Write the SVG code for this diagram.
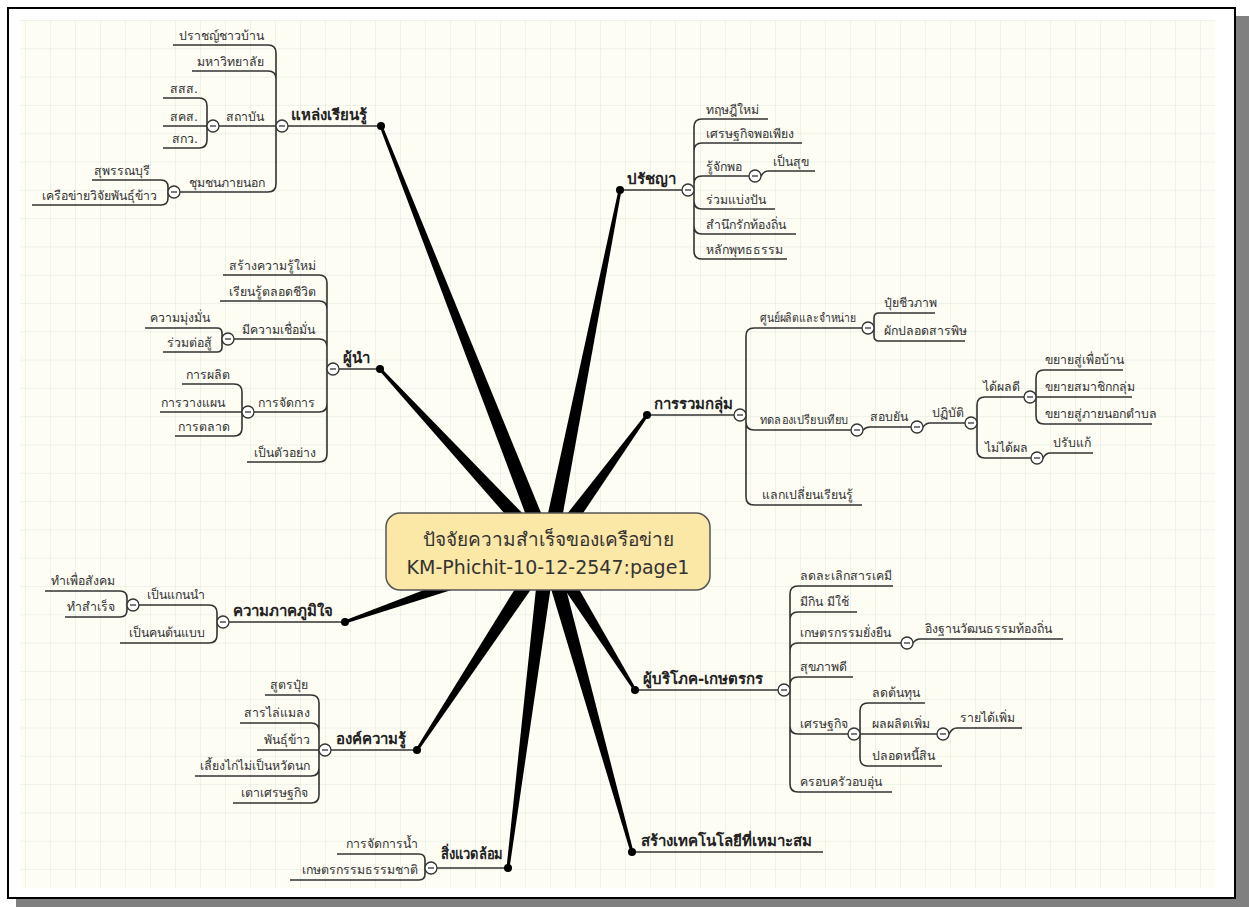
<svg xmlns="http://www.w3.org/2000/svg" xmlns:xlink="http://www.w3.org/1999/xlink" width="1249" height="907" viewBox="0 0 1249 907">
<defs>
<pattern id="grid" x="0" y="20" width="25" height="28.3" patternUnits="userSpaceOnUse">
<rect width="25" height="28.3" fill="#fdfdf4"/>
<path d="M0,0H25M0,0V28.3" fill="none" stroke="#dfe8dc" stroke-width="1"/>
</pattern>
<g id="tog"><circle r="6" fill="#fff" stroke="#333" stroke-width="1.3"/><path d="M-3,0H3" stroke="#333" stroke-width="1.3"/></g>
<style>
.t{font-family:"Tahoma","DejaVu Sans","Noto Sans",sans-serif;font-size:12.3px;fill:#333}
.e{text-anchor:end}
.h{font-family:"Tahoma","DejaVu Sans","Noto Sans",sans-serif;font-size:15px;font-weight:bold;fill:#222}
.c{font-family:"DejaVu Sans","Noto Sans",sans-serif;font-size:19px;fill:#333;text-anchor:middle}
.ln{fill:none;stroke:#333;stroke-width:1.6}
.sp{fill:#000}
</style>
</defs>
<rect x="16" y="16" width="1233" height="891" fill="#808080"/>
<rect x="8" y="8" width="1227" height="890" fill="#fff" stroke="#000" stroke-width="2"/>
<rect x="20" y="20" width="1195" height="868" fill="url(#grid)"/>

<g id="spokes">
<polygon class="sp" points="0,-8 456.6,-1.5 456.6,1.5 0,8" transform="translate(548 551) rotate(-111.45)"/>
<polygon class="sp" points="0,-8 368.1,-1.5 368.1,1.5 0,8" transform="translate(548 551) rotate(-78.72)"/>
<polygon class="sp" points="0,-8 247.7,-1.5 247.7,1.5 0,8" transform="translate(548 551) rotate(-132.71)"/>
<polygon class="sp" points="0,-8 168.2,-1.5 168.2,1.5 0,8" transform="translate(548 551) rotate(-53.94)"/>
<polygon class="sp" points="0,-8 215.1,-1.5 215.1,1.5 0,8" transform="translate(548 551) rotate(160.72)"/>
<polygon class="sp" points="0,-8 238.2,-1.5 238.2,1.5 0,8" transform="translate(548 551) rotate(123.36)"/>
<polygon class="sp" points="0,-8 319.5,-1.5 319.5,1.5 0,8" transform="translate(548 551) rotate(97.19)"/>
<polygon class="sp" points="0,-8 312.5,-1.5 312.5,1.5 0,8" transform="translate(548 551) rotate(74.41)"/>
<polygon class="sp" points="0,-8 164,-1.5 164,1.5 0,8" transform="translate(548 551) rotate(57.96)"/>
</g>

<g id="connectors" class="ln">
<path d="M282,126H381M688,190H620M333,369H380M740,415H647M223,622H345M325,750H417M431,868H508M632,852H823M784,690H635"/>
<path d="M173,45H268Q276,45 276,53V126M192,71H268Q276,71 276,79V126M213,126H282M174,192H268Q276,192 276,184V126"/>
<path d="M163,98H199Q207,98 207,106V126M163,126H213M163,148H199Q207,148 207,140V126"/>
<path d="M92,180H161Q168,180 168,187V192M32,205H161Q168,205 168,198V192"/>
<path d="M768,119H702Q694,119 694,127V190M802,143H702Q694,143 694,151V190M755,176H702Q694,176 694,184V190M775,209H702Q694,209 694,201V190M796,234H702Q694,234 694,226V190M787,259H702Q694,259 694,251V190"/>
<path d="M755,176H761Q764,171 768,171H815"/>
<path d="M223,275H319Q327,275 327,283V369M220,301H319Q327,301 327,309V369M228,339H319Q327,339 327,347V369M248,412H319Q327,412 327,404V369M247,462H319Q327,462 327,454V369"/>
<path d="M145,328H217Q222,328 222,333V339M163,352H217Q222,352 222,347V339"/>
<path d="M182,384H234Q242,384 242,392V412M160,412H248M175,436H234Q242,436 242,428V412"/>
<path d="M868,328H754Q746,328 746,336V415M857,430H754Q746,430 746,422V415M862,505H754Q746,505 746,497V415"/>
<path d="M935,313H879Q874,313 874,318V328M965,341H879Q874,341 874,336V328"/>
<path d="M857,430H863Q866,427 870,427H917M917,427H923Q926,423 930,423H971"/>
<path d="M1030,397H985Q977,397 977,405V423M1037,458H985Q977,458 977,450V423"/>
<path d="M1123,370H1044Q1036,370 1036,378V397M1132,397H1030M1152,424H1044Q1036,424 1036,416V397"/>
<path d="M1037,458H1043Q1046,453 1050,453H1093"/>
<path d="M133,605H209Q217,605 217,613V622M120,643H209Q217,643 217,635V622"/>
<path d="M45,591H120Q127,591 127,598V605M65,617H120Q127,617 127,610V605"/>
<path d="M265,695H311Q319,695 319,703V750M240,723H311Q319,723 319,731V750M257,750H325M195,776H311Q319,776 319,768V750M233,803H311Q319,803 319,795V750"/>
<path d="M337,854H419Q425,854 425,860V868M290,880H419Q425,880 425,874V868"/>
<path d="M893,586H798Q790,586 790,594V690M857,612H798Q790,612 790,620V690M907,643H798Q790,643 790,651V690M853,677H798Q790,677 790,685V690M854,734H798Q790,734 790,726V690M892,792H798Q790,792 790,784V690"/>
<path d="M907,643H913Q916,639 920,639H1063"/>
<path d="M925,703H868Q860,703 860,711V734M943,734H854M942,766H868Q860,766 860,758V734"/>
<path d="M943,734H949Q952,728 957,728H1022"/>
</g>

<g id="toggles">
<use xlink:href="#tog" x="282" y="126"/><use xlink:href="#tog" x="213" y="126"/><use xlink:href="#tog" x="174" y="192"/>
<use xlink:href="#tog" x="688" y="190"/><use xlink:href="#tog" x="755" y="176"/>
<use xlink:href="#tog" x="333" y="369"/><use xlink:href="#tog" x="228" y="339"/><use xlink:href="#tog" x="248" y="412"/>
<use xlink:href="#tog" x="740" y="415"/><use xlink:href="#tog" x="868" y="328"/><use xlink:href="#tog" x="857" y="430"/><use xlink:href="#tog" x="917" y="427"/><use xlink:href="#tog" x="971" y="423"/><use xlink:href="#tog" x="1030" y="397"/><use xlink:href="#tog" x="1037" y="458"/>
<use xlink:href="#tog" x="223" y="622"/><use xlink:href="#tog" x="133" y="605"/>
<use xlink:href="#tog" x="325" y="750"/><use xlink:href="#tog" x="431" y="868"/>
<use xlink:href="#tog" x="784" y="690"/><use xlink:href="#tog" x="907" y="643"/><use xlink:href="#tog" x="854" y="734"/><use xlink:href="#tog" x="943" y="734"/>
</g>

<g id="dots" fill="#000">
<circle cx="381" cy="126" r="4"/><circle cx="620" cy="190" r="4"/><circle cx="380" cy="369" r="4"/><circle cx="647" cy="415" r="4"/><circle cx="345" cy="622" r="4"/><circle cx="417" cy="750" r="4"/><circle cx="508" cy="868" r="4"/><circle cx="632" cy="852" r="4"/><circle cx="635" cy="690" r="4"/>
</g>

<g id="center">
<rect x="386" y="513" width="324" height="77" rx="14" fill="#fbe7a6" stroke="#555" stroke-width="1.5"/>
<text class="c" x="548" y="546">ปัจจัยความสำเร็จของเครือข่าย</text>
<text class="c" x="548" y="574">KM-Phichit-10-12-2547:page1</text>
</g>

<g id="n-source">
<text class="h" x="291" y="120">แหล่งเรียนรู้</text>
<text class="t e" x="264" y="40">ปราชญ์ชาวบ้าน</text>
<text class="t e" x="264" y="66">มหาวิทยาลัย</text>
<text class="t e" x="264" y="121">สถาบัน</text>
<text class="t e" x="198" y="93">สสส.</text>
<text class="t e" x="198" y="121">สคส.</text>
<text class="t e" x="198" y="143">สกว.</text>
<text class="t e" x="265" y="187">ชุมชนภายนอก</text>
<text class="t e" x="150" y="175">สุพรรณบุรี</text>
<text class="t e" x="157" y="200">เครือข่ายวิจัยพันธุ์ข้าว</text>
</g>

<g id="n-philosophy">
<text class="h" x="627" y="184">ปรัชญา</text>
<text class="t" x="706" y="114">ทฤษฎีใหม่</text>
<text class="t" x="706" y="138">เศรษฐกิจพอเพียง</text>
<text class="t" x="706" y="171">รู้จักพอ</text>
<text class="t" x="773" y="166">เป็นสุข</text>
<text class="t" x="706" y="204">ร่วมแบ่งปัน</text>
<text class="t" x="706" y="229">สำนึกรักท้องถิ่น</text>
<text class="t" x="706" y="254">หลักพุทธธรรม</text>
</g>

<g id="n-leader">
<text class="h" x="343" y="363">ผู้นำ</text>
<text class="t e" x="316" y="270">สร้างความรู้ใหม่</text>
<text class="t e" x="316" y="296">เรียนรู้ตลอดชีวิต</text>
<text class="t e" x="315" y="334">มีความเชื่อมั่น</text>
<text class="t e" x="210" y="322">ความมุ่งมั่น</text>
<text class="t e" x="212" y="347">ร่วมต่อสู้</text>
<text class="t e" x="315" y="407">การจัดการ</text>
<text class="t e" x="230" y="379">การผลิต</text>
<text class="t e" x="225" y="407">การวางแผน</text>
<text class="t e" x="230" y="431">การตลาด</text>
<text class="t e" x="316" y="457">เป็นตัวอย่าง</text>
</g>

<g id="n-group">
<text class="h" x="654" y="409">การรวมกลุ่ม</text>
<text class="t" x="760" y="322" textLength="96" lengthAdjust="spacingAndGlyphs">ศูนย์ผลิตและจำหน่าย</text>
<text class="t" x="884" y="307">ปุ๋ยชีวภาพ</text>
<text class="t" x="884" y="335">ผักปลอดสารพิษ</text>
<text class="t" x="760" y="424" textLength="88" lengthAdjust="spacingAndGlyphs">ทดลองเปรียบเทียบ</text>
<text class="t" x="870" y="421">สอบยัน</text>
<text class="t" x="932" y="417">ปฏิบัติ</text>
<text class="t" x="983" y="391">ได้ผลดี</text>
<text class="t" x="1045" y="364">ขยายสู่เพื่อบ้าน</text>
<text class="t" x="1045" y="391">ขยายสมาชิกกลุ่ม</text>
<text class="t" x="1045" y="418">ขยายสู่ภายนอกตำบล</text>
<text class="t" x="985" y="452">ไม่ได้ผล</text>
<text class="t" x="1053" y="447">ปรับแก้</text>
<text class="t" x="762" y="499">แลกเปลี่ยนเรียนรู้</text>
</g>

<g id="n-pride">
<text class="h" x="233" y="616">ความภาคภูมิใจ</text>
<text class="t e" x="205" y="599">เป็นแกนนำ</text>
<text class="t e" x="115" y="585">ทำเพื่อสังคม</text>
<text class="t e" x="115" y="611">ทำสำเร็จ</text>
<text class="t e" x="205" y="637">เป็นคนต้นแบบ</text>
</g>

<g id="n-knowledge">
<text class="h" x="336" y="744">องค์ความรู้</text>
<text class="t e" x="308" y="689">สูตรปุ๋ย</text>
<text class="t e" x="310" y="717">สารไล่แมลง</text>
<text class="t e" x="310" y="744">พันธุ์ข้าว</text>
<text class="t e" x="310" y="770">เลี้ยงไก่ไม่เป็นหวัดนก</text>
<text class="t e" x="308" y="797">เตาเศรษฐกิจ</text>
</g>

<g id="n-environment">
<text class="h" x="441" y="859" textLength="62" lengthAdjust="spacingAndGlyphs">สิ่งแวดล้อม</text>
<text class="t e" x="418" y="848">การจัดการน้ำ</text>
<text class="t e" x="418" y="874">เกษตรกรรมธรรมชาติ</text>
</g>

<g id="n-technology">
<text class="h" x="641" y="846">สร้างเทคโนโลยีที่เหมาะสม</text>
</g>

<g id="n-consumer">
<text class="h" x="643" y="684">ผู้บริโภค-เกษตรกร</text>
<text class="t" x="800" y="580">ลดละเลิกสารเคมี</text>
<text class="t" x="800" y="606">มีกิน มีใช้</text>
<text class="t" x="800" y="637">เกษตรกรรมยั่งยืน</text>
<text class="t" x="925" y="633">อิงฐานวัฒนธรรมท้องถิ่น</text>
<text class="t" x="800" y="671">สุขภาพดี</text>
<text class="t" x="800" y="728">เศรษฐกิจ</text>
<text class="t" x="872" y="697">ลดต้นทุน</text>
<text class="t" x="872" y="728">ผลผลิตเพิ่ม</text>
<text class="t" x="960" y="722">รายได้เพิ่ม</text>
<text class="t" x="872" y="760">ปลอดหนี้สิน</text>
<text class="t" x="800" y="786">ครอบครัวอบอุ่น</text>
</g>
</svg>
